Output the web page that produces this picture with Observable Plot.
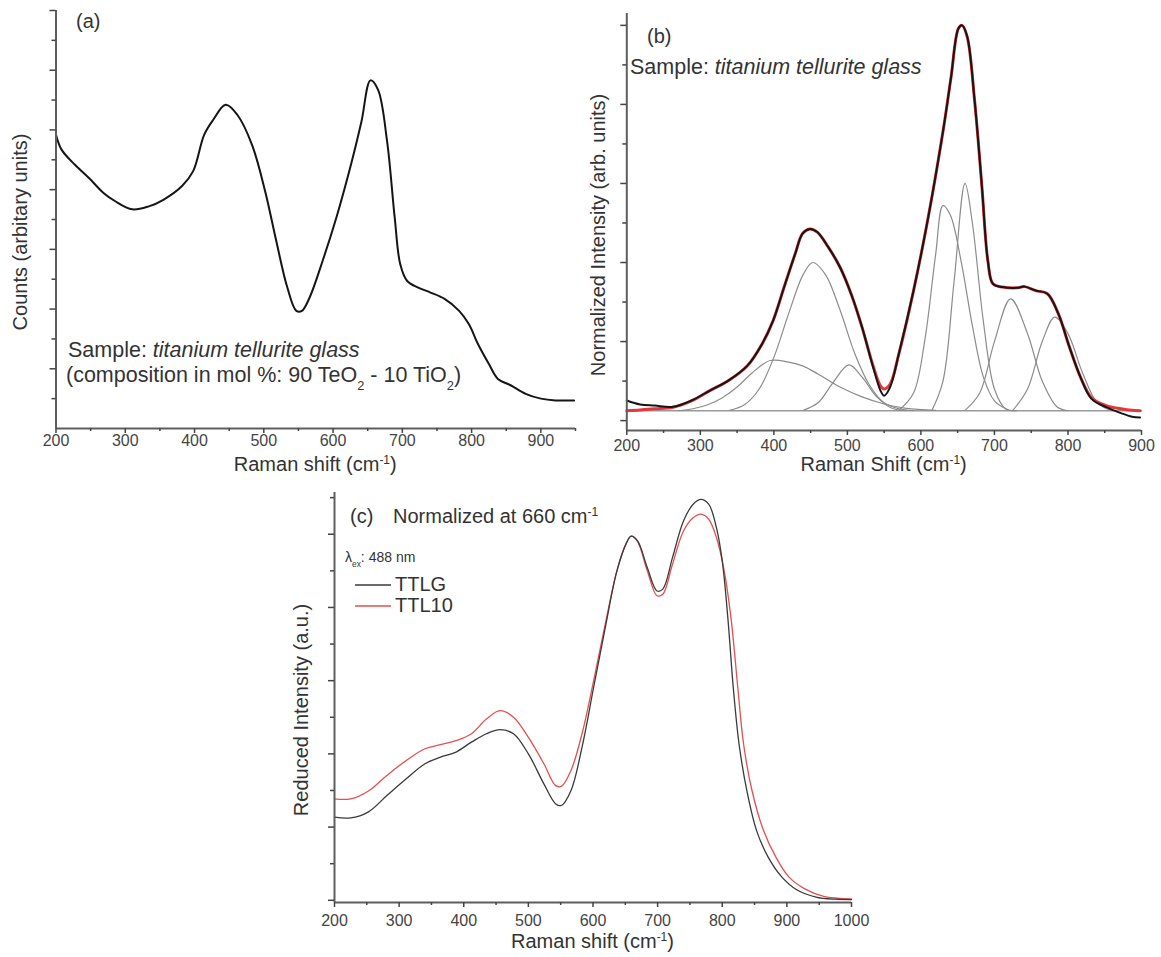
<!DOCTYPE html>
<html><head><meta charset="utf-8">
<script src="https://cdn.jsdelivr.net/npm/d3@7"></script>
<script src="https://cdn.jsdelivr.net/npm/@observablehq/plot@0.6"></script>
<style>
body{margin:0;background:#fff;}
#fig{position:relative;width:1161px;height:957px;overflow:hidden;}
#fig svg{position:absolute;overflow:visible;}
</style></head><body><div id="fig"></div>
<script>
// ---------- Panel (a) ----------
const aShift = [200,208,227,248,269,285,310,334,355,382,398,414,427,445,462,483,502,518,534,547,555,566,585,606,627,641,654,665,678,689,697,707,723,740,761,782,796,809,825,838,857,878,900,921,948];
const aCounts = [4.92,4.67,4.42,4.19,3.94,3.81,3.67,3.72,3.83,4.06,4.31,4.92,5.17,5.42,5.25,4.75,3.97,3.14,2.36,1.97,1.97,2.19,2.81,3.58,4.47,5.14,5.83,5.67,4.81,3.53,2.75,2.47,2.36,2.28,2.17,1.97,1.75,1.42,1.08,0.83,0.72,0.58,0.5,0.47,0.47];
const aXMajor = [200,300,400,500,600,700,800,900];
const aXMinor = [250,350,450,550,650,750,850,950];
const aYMajor = [1,2,3,4,5,6,7];
const aYMinor = [0.5,1.5,2.5,3.5,4.5,5.5,6.5];

// ---------- Panel (b) ----------
const bShift = [200,218,238,263,288,313,338,364,384,399,414,429,439,449,459,474,490,505,520,535,545,550,558,570,590,610,631,641,651,656,663,673,683,691,698,711,731,741,756,772,787,802,817,832,852,872,887,898];
const bData = [0.051,0.041,0.038,0.035,0.051,0.076,0.101,0.139,0.194,0.253,0.338,0.422,0.473,0.485,0.477,0.439,0.388,0.321,0.236,0.135,0.076,0.063,0.084,0.169,0.329,0.515,0.743,0.869,0.992,1.0,0.971,0.81,0.591,0.405,0.346,0.338,0.336,0.339,0.329,0.321,0.27,0.186,0.11,0.055,0.034,0.019,0.01,0.008];
const bFit = [0.025,0.027,0.03,0.034,0.05,0.076,0.101,0.139,0.194,0.253,0.338,0.422,0.473,0.485,0.477,0.439,0.388,0.321,0.236,0.138,0.088,0.08,0.092,0.169,0.329,0.515,0.743,0.869,0.992,1.0,0.971,0.81,0.591,0.405,0.346,0.338,0.336,0.339,0.329,0.321,0.27,0.186,0.11,0.058,0.038,0.03,0.026,0.025];
const bBaseX = [200,900];
const bBaseY = [0.025,0.025];
const b1x = [270,290,310,330,350,370,395,420,440,460,490,520,550,580,620];
const b1y = [0.025,0.03,0.04,0.058,0.085,0.12,0.152,0.148,0.138,0.118,0.085,0.06,0.042,0.031,0.026];
const b2x = [340,360,380,400,420,440,453,470,490,510,530,550,570,590];
const b2y = [0.026,0.04,0.08,0.16,0.27,0.37,0.40,0.37,0.28,0.17,0.09,0.045,0.03,0.025];
const b3x = [440,460,480,502,520,540,560,580];
const b3y = [0.026,0.045,0.095,0.141,0.11,0.06,0.032,0.025];
const b4x = [570,590,605,620,630,640,655,670,685,700,720];
const b4y = [0.026,0.07,0.2,0.42,0.544,0.52,0.4,0.24,0.11,0.05,0.026];
const b5x = [615,630,645,660,670,685,700,715,730];
const b5y = [0.026,0.1,0.35,0.60,0.5,0.25,0.08,0.03,0.025];
const b6x = [660,680,700,722,745,765,785,800];
const b6y = [0.026,0.07,0.2,0.308,0.22,0.1,0.035,0.025];
const b7x = [725,745,765,782,800,820,840,860];
const b7y = [0.026,0.08,0.2,0.262,0.22,0.12,0.045,0.025];
const bXMajor = [200,300,400,500,600,700,800,900];
const bXMinor = [250,350,450,550,650,750,850];
const bYMajor = [0,0.2,0.4,0.6,0.8,1.0];
const bYMinor = [0.1,0.3,0.5,0.7,0.9];

// ---------- Panel (c) ----------
const cShiftG = [200,225,252,281,311,340,364,388,412,435,456,477,500,524,542,551,566,583,601,619,637,652,659,669,684,699,708,723,740,755,767,779,791,800,809,817,826,838,853,871,892,915,945,975,1000];
const cTTLG = [0.227,0.225,0.241,0.286,0.332,0.373,0.391,0.405,0.432,0.455,0.466,0.455,0.4,0.318,0.264,0.259,0.3,0.418,0.582,0.745,0.9,0.977,0.995,0.982,0.909,0.845,0.85,0.936,1.036,1.082,1.095,1.082,1.018,0.927,0.764,0.582,0.427,0.3,0.191,0.118,0.064,0.029,0.009,0.003,0.002];
const cShiftR = [200,225,252,281,311,340,364,388,412,435,456,477,500,524,542,551,566,583,601,619,637,652,659,669,684,699,708,723,740,755,767,779,791,803,814,824,833,846,863,883,903,927,957,1000];
const cTTL10 = [0.277,0.277,0.298,0.341,0.382,0.414,0.425,0.436,0.455,0.495,0.518,0.5,0.445,0.373,0.314,0.311,0.355,0.455,0.6,0.755,0.9,0.977,0.995,0.98,0.9,0.832,0.836,0.918,1.009,1.045,1.055,1.041,0.991,0.9,0.764,0.582,0.427,0.3,0.195,0.118,0.064,0.032,0.011,0.004];
const cXMajor = [200,300,400,500,600,700,800,900,1000];
const cXMinor = [250,350,450,550,650,750,850,950];
const cYMajor = [0,0.2,0.4,0.6,0.8,1.0];
const cYMinor = [0.1,0.3,0.5,0.7,0.9,1.1];
const cSeries = ["TTLG","TTL10"];
const cColors = ["#3a3a3a","#e2504f"];

// ---------- helpers ----------
const FONT = '"Liberation Sans", Arial, Helvetica, sans-serif';
const INK = "#333";
const AXIS = "#5e5e5e";
const zip = (xs, ys) => xs.map((x, i) => ({x, y: ys[i]}));
const fig = document.getElementById("fig");

function axes(xMajor, xMinor, yMajor, yMinor, x0, y0, labelPad) {
  return [
    Plot.ruleY([y0], {stroke: AXIS, strokeWidth: 2}),
    Plot.ruleX([x0], {stroke: AXIS, strokeWidth: 2}),
    Plot.axisX(xMajor, {anchor: "bottom", tickSize: 5, tickPadding: labelPad, label: null, strokeWidth: 1.5, fontSize: 16, tickFormat: d => String(d)}),
    Plot.axisX(xMinor, {anchor: "bottom", tickSize: 3, tickFormat: () => "", label: null, strokeWidth: 1.5}),
    Plot.axisY(yMajor, {anchor: "left", tickSize: 6, tickFormat: () => "", label: null, strokeWidth: 1.5}),
    Plot.axisY(yMinor, {anchor: "left", tickSize: 4, tickFormat: () => "", label: null, strokeWidth: 1.5})
  ];
}

function place(svg, left, top) {
  svg.style.left = left + "px";
  svg.style.top = top + "px";
  fig.appendChild(svg);
}

function txt(svg, x, y, parts, o = {}) {
  const size = o.size || 20;
  const t = d3.select(svg).append("text")
    .attr("font-family", FONT).attr("font-size", size)
    .attr("fill", o.fill || INK).attr("text-anchor", o.anchor || "start");
  if (o.rotate) t.attr("transform", `translate(${x},${y}) rotate(-90)`);
  else t.attr("x", x).attr("y", y);
  for (const raw of parts) {
    const p = (typeof raw === "string") ? {t: raw} : raw;
    const s = t.append("tspan").text(p.t);
    if (p.i === true) s.attr("font-style", "italic");
    if (p.sup === true) s.attr("baseline-shift", "super").attr("font-size", size * 0.6);
    if (p.sub === true) s.attr("baseline-shift", "sub").attr("font-size", size * 0.6);
  }
  return t;
}

const baseStyle = {fontFamily: FONT, fontSize: "16px", color: "#444", background: "none", overflow: "visible"};

// ---------- Panel (a) ----------
const pa = Plot.plot({
  width: 600, height: 480, marginLeft: 55.5, marginRight: 25, marginTop: 10, marginBottom: 52,
  style: baseStyle,
  x: {domain: [200, 950], label: null},
  y: {domain: [0, 7], label: null},
  marks: [
    Plot.line(zip(aShift, aCounts), {x: "x", y: "y", stroke: "#151515", strokeWidth: 2, curve: "catmull-rom"}),
    ...axes(aXMajor, aXMinor, aYMajor, aYMinor, 200, 0, 1)
  ]
});
place(pa, 0, 0);
txt(pa, 76, 28, ["(a)"]);
txt(pa, 68, 357, ["Sample: ", {t: "titanium tellurite glass", i: true}], {size: 21.5});
txt(pa, 66, 382, ["(composition in mol %: 90 TeO", {t: "2", sub: true}, " - 10 TiO", {t: "2", sub: true}, ")"], {size: 21.5});
txt(pa, 27, 232, ["Counts (arbitary units)"], {rotate: true, anchor: "middle"});
txt(pa, (55.5 + 575) / 2, 471, ["Raman shift (cm", {t: "-1", sup: true}, ")"], {anchor: "middle"});

// ---------- Panel (b) ----------
const pb = Plot.plot({
  width: 581, height: 480, marginLeft: 46.3, marginRight: 20, marginTop: 13, marginBottom: 50,
  style: baseStyle,
  x: {domain: [200, 900], label: null},
  y: {domain: [-0.025, 1.03], label: null},
  marks: [
    Plot.line(zip(bBaseX, bBaseY), {x: "x", y: "y", stroke: "#9a9a9a", strokeWidth: 1.6}),
    ...[[b1x,b1y],[b2x,b2y],[b3x,b3y],[b4x,b4y],[b5x,b5y],[b6x,b6y],[b7x,b7y]].map(([xs, ys]) =>
      Plot.line(zip(xs, ys), {x: "x", y: "y", stroke: "#8c8c8c", strokeWidth: 1.2, curve: "catmull-rom"})),
    Plot.line(zip(bShift, bFit), {x: "x", y: "y", stroke: "#e0383c", strokeWidth: 3, curve: "catmull-rom"}),
    Plot.line(zip(bShift, bData), {x: "x", y: "y", stroke: "#151515", strokeWidth: 2, curve: "catmull-rom"}),
    ...axes(bXMajor, bXMinor, bYMajor, bYMinor, 200, -0.025, 4)
  ]
});
place(pb, 580, 0);
txt(pb, 67, 43, ["(b)"]);
txt(pb, 50, 74, ["Sample: ", {t: "titanium tellurite glass", i: true}], {size: 21.5});
txt(pb, 25, 235, ["Normalized Intensity (arb. units)"], {rotate: true, anchor: "middle"});
txt(pb, (46.3 + 561) / 2, 471, ["Raman Shift (cm", {t: "-1", sup: true}, ")"], {anchor: "middle"});

// ---------- Panel (c) ----------
const pc = Plot.plot({
  width: 600, height: 487, marginLeft: 54, marginRight: 29, marginTop: 22, marginBottom: 55,
  style: baseStyle,
  x: {domain: [200, 1000], label: null},
  y: {domain: [-0.006, 1.114], label: null},
  marks: [
    Plot.line(zip(cShiftR, cTTL10), {x: "x", y: "y", stroke: cColors[1], strokeWidth: 1.3, curve: "catmull-rom"}),
    Plot.line(zip(cShiftG, cTTLG), {x: "x", y: "y", stroke: cColors[0], strokeWidth: 1.3, curve: "catmull-rom"}),
    ...axes(cXMajor, cXMinor, cYMajor, cYMinor, 200, -0.006, 7)
  ]
});
place(pc, 280, 470);
txt(pc, 70, 53, ["(c)"]);
txt(pc, 113, 53, ["Normalized at 660 cm", {t: "-1", sup: true}]);
txt(pc, 65, 92, ["λ", {t: "ex", sub: true}, ": 488 nm"], {size: 14});
cSeries.forEach((name, i) => {
  const y = 115 + i * 21;
  d3.select(pc).append("line").attr("x1", 75).attr("x2", 111).attr("y1", y).attr("y2", y)
    .attr("stroke", cColors[i]).attr("stroke-width", 1.3);
  txt(pc, 115, y + 6, [name]);
});
txt(pc, 28, 240, ["Reduced Intensity (a.u.)"], {rotate: true, anchor: "middle"});
txt(pc, (54 + 571) / 2, 478, ["Raman shift (cm", {t: "-1", sup: true}, ")"], {anchor: "middle"});
</script></body></html>
